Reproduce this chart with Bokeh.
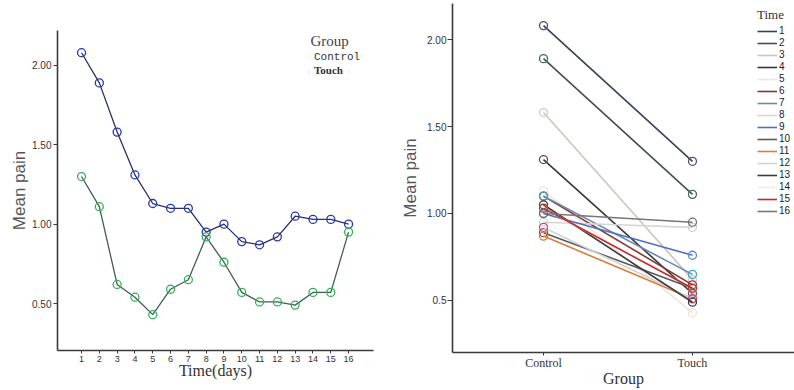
from bokeh.plotting import figure
from bokeh.layouts import row
from bokeh.models import Range1d, FixedTicker, Legend, LegendItem, Label
from bokeh.embed import file_html
from bokeh.resources import INLINE

# Mean pain per day for each group
days = list(range(1, 17))
control_mean = [2.08, 1.89, 1.58, 1.31, 1.13, 1.10, 1.10, 0.95,
                1.00, 0.89, 0.87, 0.92, 1.05, 1.03, 1.03, 1.00]
touch_mean = [1.30, 1.11, 0.62, 0.54, 0.43, 0.59, 0.65, 0.92,
              0.76, 0.57, 0.51, 0.51, 0.49, 0.57, 0.57, 0.95]
groups = ["Control", "Touch"]

left_y_ticks = [0.5, 1.0, 1.5, 2.0]
left_y_labels = ["0.50", "1.00", "1.50", "2.00"]
right_y_labels = ["0.5", "1.00", "1.50", "2.00"]

# One colour per day (line, marker)
day_line_colors = ["#3a3f5c", "#474f4c", "#cbc6bd", "#363636", "#efe4e0", "#7b3b2f",
                   "#6d88b5", "#d6d6d6", "#4f6fc0", "#5a5a5a", "#e07a3a", "#d3d3d3",
                   "#3c3c3c", "#f2eeee", "#c62828", "#777777"]
day_marker_colors = ["#4a4f70", "#3d6a55", "#d0ccc4", "#6b4a55", "#f1e4cf", "#8a3b3b",
                     "#3aa6b9", "#cfcfcf", "#5b87d6", "#555555", "#e07a3a", "#c04c8a",
                     "#3a3a3a", "#eeeeee", "#c62828", "#6e6e6e"]

SANS = "Liberation Sans"
SERIF = "Liberation Serif"
AXIS_COLOR = "#3a3a3a"


def style_axes(p):
    p.xgrid.visible = False
    p.ygrid.visible = False
    p.outline_line_color = None
    for ax in (p.xaxis[0], p.yaxis[0]):
        ax.axis_line_color = AXIS_COLOR
        ax.axis_line_width = 1.6
        ax.major_tick_line_color = AXIS_COLOR
        ax.major_tick_in = 0
        ax.major_tick_out = 4
        ax.minor_tick_line_color = None
        ax.major_label_text_color = "#333333"
        ax.major_label_text_font = SANS
        ax.major_label_text_font_size = "10px"
        ax.major_label_standoff = 2
        ax.axis_label_text_font_style = "normal"
    p.yaxis[0].axis_label_text_font = SANS
    p.yaxis[0].axis_label_text_font_size = "17px"
    p.yaxis[0].axis_label_text_color = "#555555"
    p.yaxis[0].axis_label_standoff = 4
    p.xaxis[0].axis_label_text_font = SERIF
    p.xaxis[0].axis_label_text_color = "#333333"
    p.xaxis[0].axis_label_standoff = -3
    p.xaxis[0].major_tick_out = 3


# ---- Left: mean pain over time by group ----
left = figure(width=397, height=390, x_range=Range1d(-0.35, 17.4),
              y_range=Range1d(0.204, 2.22), output_backend="svg",
              toolbar_location=None, min_border_left=57, min_border_right=24,
              min_border_top=30, min_border_bottom=40, frame_align=False)
style_axes(left)
left.xaxis.ticker = FixedTicker(ticks=days)
left.xaxis.major_label_text_font_size = "9px"
left.xaxis.axis_label = "Time(days)"
left.xaxis.axis_label_text_font_size = "16px"
left.yaxis.ticker = FixedTicker(ticks=left_y_ticks)
left.yaxis.major_label_overrides = dict(zip(left_y_ticks, left_y_labels))
left.yaxis.axis_label = "Mean pain"
left.yaxis.axis_label_standoff = 0

left.line(days, control_mean, line_color="#2c2f66", line_width=1.3)
left.scatter(days, control_mean, marker="circle", size=8, fill_color=None,
             line_color="#2638b0", line_width=1.3)
left.line(days, touch_mean, line_color="#3f5f50", line_width=1.3)
left.scatter(days, touch_mean, marker="circle", size=8, fill_color=None,
             line_color="#34b255", line_width=1.3)

c_swatch = left.line([], [], line_color="#3a4a9a", line_width=2)
t_swatch = left.line([], [], line_color="#5a8a74", line_width=2)

leg_c = Legend(items=[LegendItem(label=groups[0], renderers=[c_swatch])],
               location=(244, 287), label_text_font="Liberation Mono",
               label_text_font_size="11px", label_text_color="#333333")
leg_t = Legend(items=[LegendItem(label=groups[1], renderers=[t_swatch])],
               location=(244, 274), label_text_font=SERIF,
               label_text_font_size="11px", label_text_font_style="bold",
               label_text_color="#333333")
for leg in (leg_c, leg_t):
    leg.glyph_width = 12
    leg.glyph_height = 10
    leg.label_height = 10
    leg.label_standoff = 1
    leg.padding = 0
    leg.margin = 0
    leg.spacing = 0
    leg.border_line_color = None
    leg.background_fill_alpha = 0
    left.add_layout(leg)
left.add_layout(Label(x=253, y=302, x_units="screen", y_units="screen",
                      text="Group", text_font=SERIF, text_font_size="15px",
                      text_color="#444444"))

# ---- Right: control vs touch, one line per day ----
right = figure(width=397, height=390, x_range=Range1d(-0.611, 1.685),
               y_range=Range1d(0.201, 2.207), output_backend="svg",
               toolbar_location=None, min_border_left=55, min_border_right=0,
               min_border_top=3, min_border_bottom=38, frame_align=False)
style_axes(right)
right.xaxis.ticker = FixedTicker(ticks=list(range(len(groups))))
right.xaxis.major_label_overrides = {i: g for i, g in enumerate(groups)}
right.xaxis.major_label_text_font = SERIF
right.xaxis.major_label_text_font_size = "12px"
right.xaxis.major_label_standoff = 0
right.xaxis.axis_label = "Group"
right.xaxis.axis_label_text_font_size = "16px"
right.yaxis.ticker = FixedTicker(ticks=left_y_ticks)
right.yaxis.major_label_overrides = dict(zip(left_y_ticks, right_y_labels))
right.yaxis.axis_label = "Mean pain"
right.yaxis.major_tick_out = 5
right.yaxis.major_label_standoff = 1

xs = list(range(len(groups)))
items = []
for i, d in enumerate(days):
    ys = [control_mean[i], touch_mean[i]]
    r = right.line(xs, ys, line_color=day_line_colors[i], line_width=1.6)
    right.scatter(xs, ys, marker="circle", size=8, fill_color=None,
                  line_color=day_marker_colors[i], line_width=1.3)
    items.append(LegendItem(label=str(d), renderers=[r]))

leg_time = Legend(items=items, location=(305, 136), title="Time",
                  title_text_font=SERIF, title_text_font_size="13px",
                  title_text_font_style="normal", title_text_color="#333333",
                  title_standoff=2, label_text_font=SANS,
                  label_text_font_size="10px", label_text_color="#222222",
                  glyph_width=20, glyph_height=10, label_height=10,
                  label_standoff=2, padding=0, margin=0, spacing=1,
                  border_line_color=None, background_fill_alpha=0)
right.add_layout(leg_time)

layout = row(left, right)
open("out.html", "w").write(file_html(layout, INLINE))
